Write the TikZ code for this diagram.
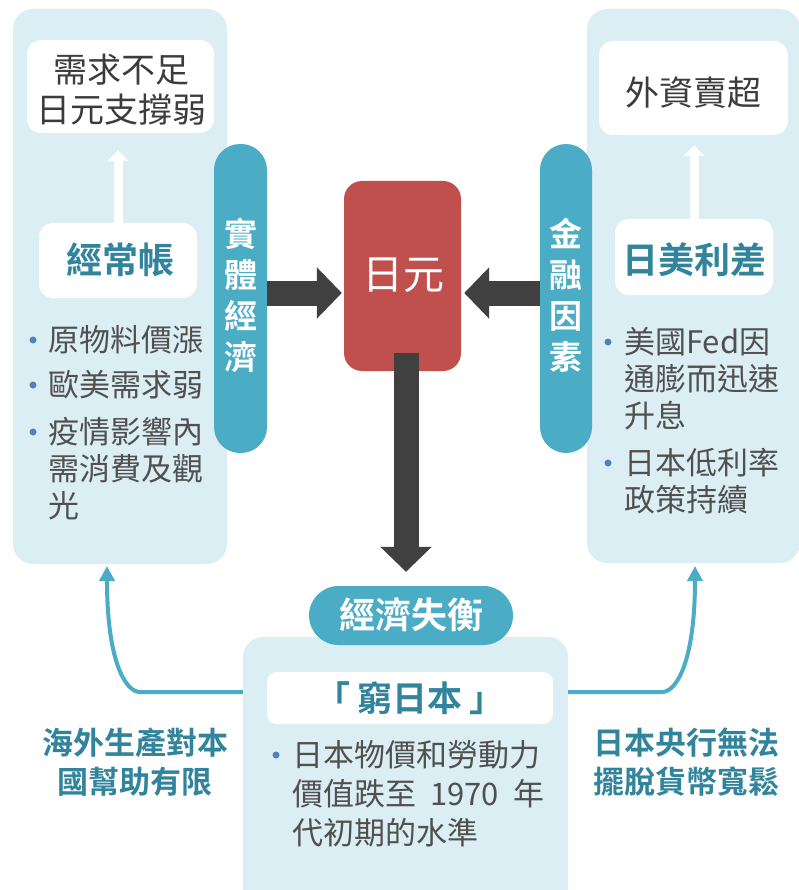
\documentclass[tikz,border=0pt]{standalone}
\usepackage{fontspec}
\newfontfamily\cjk{Noto Sans CJK TC}[BoldFont={Noto Sans CJK TC Bold}]
\usetikzlibrary{arrows.meta}
\definecolor{panelbg}{HTML}{DBEEF4}
\definecolor{pillblue}{HTML}{4BACC6}
\definecolor{tealtext}{HTML}{31849B}
\definecolor{darkarrow}{HTML}{404040}
\definecolor{redbox}{HTML}{C0504D}
\definecolor{bodygray}{HTML}{505050}
\definecolor{titlegray}{HTML}{3C3C3C}
\definecolor{bulletblue}{HTML}{4F81BD}
\begin{document}
\begin{tikzpicture}[x=1pt,y=-1pt,
  box/.style={rectangle, inner sep=0pt, draw=none},
  panel/.style={box, fill=panelbg, rounded corners=20pt},
  wbox/.style={box, fill=white, rounded corners=14pt},
  pill/.style={box, fill=pillblue},
  ptext/.style={inner sep=0pt, text=white, align=center, font=\cjk\bfseries\fontsize{33}{41}\selectfont},
  title/.style={inner sep=0pt, text=titlegray, align=center, font=\cjk\fontsize{34}{40}\selectfont},
  tealb/.style={inner sep=0pt, text=tealtext, align=center, font=\cjk\bfseries\fontsize{36}{40}\selectfont},
  lab/.style={inner sep=0pt, text=tealtext, align=center, font=\cjk\bfseries\fontsize{31}{39}\selectfont},
  body/.style={inner sep=0pt, anchor=west, text=bodygray, font=\cjk\fontsize{31}{37}\selectfont, text height=27pt, text depth=4pt},
  dot/.style={circle, fill=bulletblue, inner sep=0pt, minimum size=7pt},
  bigarrow/.style={draw=darkarrow, line width=25pt, line cap=butt, -{Triangle[length=25pt,width=50pt]}},
  warrow/.style={draw=white, line width=9pt, line cap=butt, -{Triangle[length=11pt,width=21pt]}},
  conn/.style={draw=pillblue, line width=4pt, line cap=butt, -{Triangle[length=15pt,width=15pt]}}
]
\useasboundingbox (0,0) rectangle (798,890);

% panels
\node[panel, minimum width=214pt, minimum height=555pt] (lpanel) at (120,286.5) {};
\node[panel, minimum width=213pt, minimum height=554pt] (rpanel) at (693.5,286) {};
\node[panel, minimum width=325pt, minimum height=273pt] (bpanel) at (405.5,773.5) {};

% white boxes
\node[wbox, minimum width=187pt, minimum height=93pt] (need) at (120.5,86.5) {};
\node[title] (needt) at (121,90) {需求不足\\日元支撐弱};
\node[wbox, minimum width=158pt, minimum height=75pt] (ca) at (118,260.5) {};
\node[tealb] (cat) at (120,260) {經常帳};
\node[wbox, minimum width=189pt, minimum height=94pt] (fs) at (693.5,88) {};
\node[title] (fst) at (693.5,93) {外資賣超};
\node[wbox, minimum width=158pt, minimum height=76pt] (diff) at (694,257) {};
\node[tealb] (difft) at (694,260) {日美利差};
\node[wbox, rounded corners=10pt, minimum width=286pt, minimum height=52pt] (poor) at (410,698) {};
\node[tealb, font=\cjk\bfseries\fontsize{35}{40}\selectfont] (poort) at (410,698) {「\hspace{7pt}窮日本\hspace{7pt}」};

% white up arrows
\draw[warrow, shorten >=17pt] (ca.north) -- (ca.north |- need.south);
\draw[warrow, shorten >=10pt] (diff.north) -- (diff.north |- fs.south);

% pills
\node[pill, rounded corners=26pt, minimum width=53pt, minimum height=309pt] (lpill) at (240.5,298.5) {};
\node[ptext] (lpillt) at (240.5,295) {實\\體\\經\\濟};
\node[pill, rounded corners=26pt, minimum width=52pt, minimum height=309pt] (rpill) at (566,298.5) {};
\node[ptext] (rpillt) at (566,295) {金\\融\\因\\素};
\node[pill, rounded corners=29.5pt, minimum width=204pt, minimum height=59pt] (imb) at (411,615.5) {};
\node[ptext, font=\cjk\bfseries\fontsize{36}{40}\selectfont] (imbt) at (411,615) {經濟失衡};

% red yen box
\node[box, fill=redbox, rounded corners=18pt, minimum width=117pt, minimum height=190pt] (yen) at (402.5,276) {};
\node[inner sep=0pt, text=white, font=\cjk\fontsize{41}{44}\selectfont] (yent) at (403,275) {日元};

% big dark arrows
\coordinate (la) at (267,293);
\coordinate (ra) at (540,293);
\coordinate (dstart) at (406,353);
\draw[bigarrow, shorten >=2pt] (la) -- (yen.west |- la);
\draw[bigarrow, shorten >=3pt] (ra) -- (yen.east |- ra);
\draw[bigarrow, shorten >=14pt] (dstart) -- (dstart |- imb.north);

% bullets left
\node[dot] (bl1) at (33,340) {};
\node[body] (tl1) at (48,340) {原物料價漲};
\node[dot] (bl2) at (33,385) {};
\node[body] (tl2) at (48,385) {歐美需求弱};
\node[dot] (bl3) at (33,432) {};
\node[body] (tl3a) at (48,432) {疫情影響內};
\node[body] (tl3b) at (48,469) {需消費及觀};
\node[body] (tl3c) at (48,506) {光};

% bullets right
\node[dot] (br1) at (608,342) {};
\node[body] (tr1a) at (624,342) {美國Fed因};
\node[body] (tr1b) at (624,379) {通膨而迅速};
\node[body] (tr1c) at (624,416) {升息};
\node[dot] (br2) at (608,463) {};
\node[body] (tr2a) at (624,463) {日本低利率};
\node[body] (tr2b) at (624,500) {政策持續};

% bottom bullet
\node[dot] (bb1) at (276,755) {};
\node[body] (tb1a) at (292,755) {日本物價和勞動力};
\node[body] (tb1b) at (292,794) {價值跌至\hspace{14pt}1970\hspace{14pt}年};
\node[body] (tb1c) at (292,833) {代初期的水準};

% bottom labels
\node[lab] (labl) at (135,762.5) {海外生產對本\\國幫助有限};
\node[lab] (labr) at (686,762.5) {日本央行無法\\擺脫貨幣寬鬆};

% curved connectors
\coordinate (lt) at (107,566);
\coordinate (rt) at (695,566);
\draw[conn] (bpanel.west |- 0,692) -- (140,692) .. controls (125,692) and (107,660) .. (lt);
\draw[conn] (bpanel.east |- 0,692) -- (662,692) .. controls (677,692) and (695,660) .. (rt);
\end{tikzpicture}
\end{document}
